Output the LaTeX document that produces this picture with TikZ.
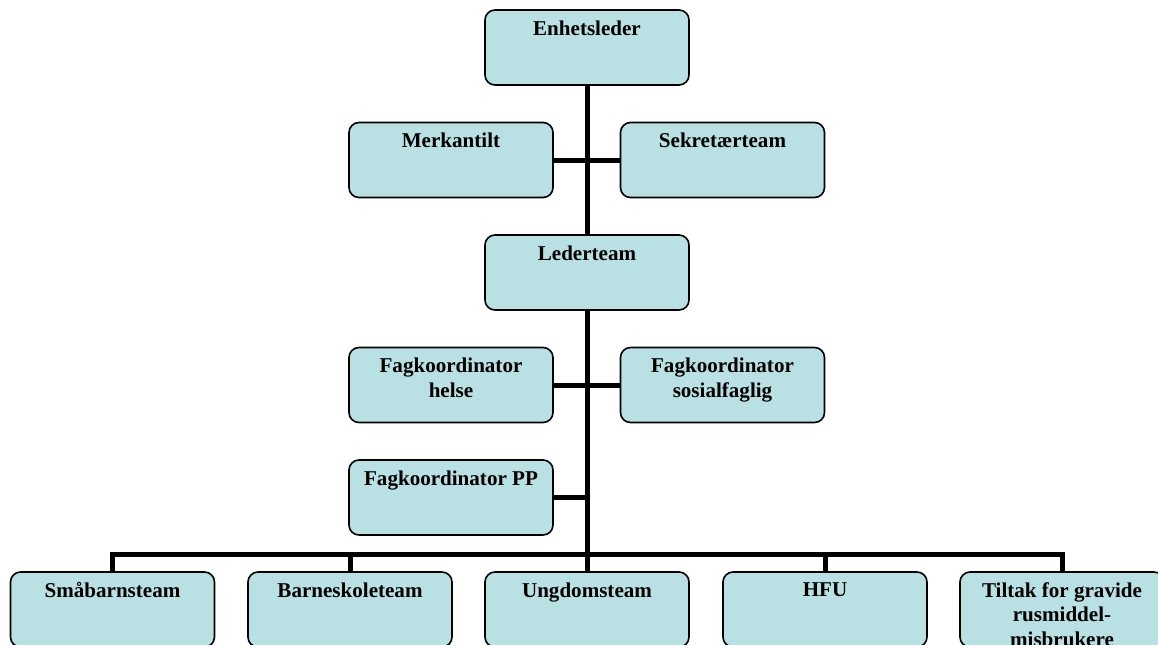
\documentclass[tikz,border=0pt]{standalone}
\usepackage{fontspec}
\setmainfont{Liberation Serif}
\usetikzlibrary{positioning,calc}
\definecolor{orgfill}{HTML}{B9E0E3}

\begin{document}
\begin{tikzpicture}[
    x=0.75pt, y=-0.75pt,
    font=\fontsize{15.8}{18.3}\selectfont\bfseries,
    unit/.style={draw=black, line width=1.2pt, rounded corners=7.5pt, fill=orgfill,
                 inner xsep=0pt, inner ysep=8pt, minimum width=153pt, minimum height=56.25pt,
                 execute at begin node={\begin{minipage}[t][40.25pt][t]{150pt}\centering},
                 execute at end node={\end{minipage}}},
    link/.style={line width=3.75pt, black, line join=miter},
]
  \clip (0,0) rectangle (1158,644);
  %% top of the chart
  \node[unit] (enh) at (587,47.5) {Enhetsleder};
  \node[unit] (merk) at (451,160) {Merkantilt};
  \node[unit] (sekr) at (722.5,160) {Sekretærteam};
  \node[unit] (leder) at (587,272.5) {Lederteam};
  %% coordinators
  \node[unit] (helse) at (451,385) {Fagkoordinator\\helse};
  \node[unit] (sosial) at (722.5,385) {Fagkoordinator\\sosialfaglig};
  \node[unit] (pp) at (451,497.5) {Fagkoordinator PP};
  %% teams
  \node[unit] (smaa) at (112.5,609.5) {Småbarnsteam};
  \node[unit] (barne) at (350,609.5) {Barneskoleteam};
  \node[unit] (ungd) at (587,609.5) {Ungdomsteam};
  \node[unit] (hfu) at (825,609.5) {HFU};
  \node[unit] (tiltak) at (1062,609.5) {Tiltak for gravide\\rusmiddel-\\misbrukere};
  %% lines
  \draw[link] (enh.south) -- (leder.north);
  \draw[link] (leder.south) -- (ungd.north);
  \draw[link] (merk.east) -- (sekr.west);
  \draw[link] (helse.east) -- (sosial.west);
  \draw[link] (pp.east) -- (pp.east -| leder.south);
  \coordinate (bus) at (587,554);
  \draw[link] (smaa.north) |- (bus) -| (tiltak.north);
  \draw[link] (barne.north) -- (barne.north |- bus);
  \draw[link] (hfu.north) -- (hfu.north |- bus);
\end{tikzpicture}
\end{document}
